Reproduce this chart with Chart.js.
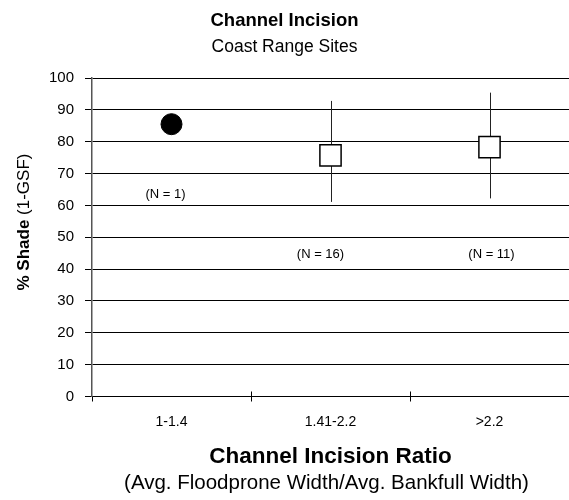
<!DOCTYPE html>
<html>
<head>
<meta charset="utf-8">
<script src="https://cdn.jsdelivr.net/npm/chart.js@4/dist/chart.umd.min.js"></script>
<style>
  html,body{margin:0;padding:0;background:#fff;}
  #wrap{width:569px;height:500px;position:relative;}
</style>
</head>
<body>
<div id="wrap"><canvas id="chart"></canvas></div>
<script>
// Dati: % ombra per classe di incisione
const categories = ['1-1.4', '1.41-2.2', '>2.2'];
const singleSite = [85.5, null, null];
const meanShade = [null, 75.7, 78.3];
const errLow = [null, 61.1, 62.2];
const errHigh = [null, 92.8, 95.4];
const nLabels = ['(N = 1)', '(N = 16)', '(N = 11)'];
const nLabelY = [63.5, 44.7, 44.7];
const yTicks = [0, 10, 20, 30, 40, 50, 60, 70, 80, 90, 100];

const FONT = "'Liberation Sans', Arial, sans-serif";
// spostamento orizzontale (px) delle etichette N rispetto al centro categoria
const N_SHIFT = [-6, -10, 2];

// barre min-max dietro ai quadrati + tacche asse X che attraversano l'asse
const errorBars = {
  id:'errorBars',
  beforeDatasetsDraw(chart){
    const {ctx, chartArea, scales:{x, y}} = chart;
    ctx.save();
    ctx.strokeStyle = '#222';
    ctx.lineWidth = 1;
    errLow.forEach((lo, i)=>{
      if(lo == null) return;
      const px = Math.round(x.getPixelForValue(i)) + 0.5;
      ctx.beginPath();
      ctx.moveTo(px, y.getPixelForValue(lo));
      ctx.lineTo(px, y.getPixelForValue(errHigh[i]));
      ctx.stroke();
    });
    ctx.strokeStyle = '#000';
    for(let i = 1; i < categories.length; i++){
      const px = Math.round(x.getPixelForValue(i - 0.5)) + 0.5;
      ctx.beginPath();
      ctx.moveTo(px, chartArea.bottom - 5);
      ctx.lineTo(px, chartArea.bottom);
      ctx.stroke();
    }
    ctx.restore();
  }
};

// titoli, etichette N e titoli assi
const texts = {
  id:'texts',
  afterDraw(chart){
    const {ctx, chartArea, scales:{x, y}} = chart;
    const W = chart.width;
    ctx.save();
    ctx.fillStyle = '#000';
    ctx.textAlign = 'center';
    ctx.textBaseline = 'alphabetic';

    ctx.font = `bold 18.5px ${FONT}`;
    ctx.fillText('Channel Incision', W/2, 26);
    ctx.font = `17.5px ${FONT}`;
    ctx.fillText('Coast Range Sites', W/2, 52);

    ctx.font = `13px ${FONT}`;
    ctx.textBaseline = 'middle';
    nLabels.forEach((t, i)=>{
      ctx.fillText(t, x.getPixelForValue(i) + N_SHIFT[i], y.getPixelForValue(nLabelY[i]));
    });

    const cx = (chartArea.left + chartArea.right)/2;
    ctx.textBaseline = 'alphabetic';
    ctx.font = `bold 22.5px ${FONT}`;
    ctx.fillText('Channel Incision Ratio', cx, 463);
    ctx.font = `20.5px ${FONT}`;
    ctx.fillText('(Avg. Floodprone Width/Avg. Bankfull Width)', cx - 4, 489);

    // titolo asse Y: parte in grassetto + parte normale
    const boldPart = '% Shade';
    const normPart = ' (1-GSF)';
    ctx.font = `bold 17px ${FONT}`;
    const wb = ctx.measureText(boldPart).width;
    ctx.font = `17px ${FONT}`;
    const wn = ctx.measureText(normPart).width;
    ctx.translate(29, 222);
    ctx.rotate(-Math.PI/2);
    ctx.textAlign = 'left';
    const start = -(wb + wn)/2;
    ctx.font = `bold 17px ${FONT}`;
    ctx.fillText(boldPart, start, 0);
    ctx.font = `17px ${FONT}`;
    ctx.fillText(normPart, start + wb, 0);
    ctx.restore();
  }
};

new Chart(document.getElementById('chart'), {
  type:'line',
  data:{
    labels:categories,
    datasets:[
      {
        label:'1 sito',
        data:singleSite,
        showLine:false,
        pointStyle:'circle',
        pointRadius:10.5,
        pointBackgroundColor:'#000',
        pointBorderColor:'#000',
        pointBorderWidth:1
      },
      {
        label:'media',
        data:meanShade,
        showLine:false,
        pointStyle:'rect',
        pointRadius:15,
        pointBackgroundColor:'#fff',
        pointBorderColor:'#000',
        pointBorderWidth:1.5
      }
    ]
  },
  options:{
    responsive:true,
    maintainAspectRatio:false,
    animation:false,
    layout:{autoPadding:false, padding:{top:78, right:0, bottom:0, left:0}},
    plugins:{
      legend:{display:false},
      tooltip:{enabled:false},
      title:{display:false}
    },
    scales:{
      x:{
        type:'category',
        offset:true,
        grid:{display:true, drawOnChartArea:false, offset:true, color:'#000', tickLength:5, lineWidth:1},
        border:{display:true, color:'#000', width:1},
        ticks:{color:'#000', font:{family:FONT, size:14}, padding:12, maxRotation:0},
        afterFit(scale){ scale.height = 103.5; }
      },
      y:{
        min:0, max:100,
        afterBuildTicks(scale){ scale.ticks = yTicks.map(v=>({value:v})); },
        grid:{color:'#000', lineWidth:1, tickLength:7},
        border:{display:true, color:'#555', width:1.5},
        ticks:{color:'#000', font:{family:FONT, size:15}, padding:11},
        afterFit(scale){ scale.width = 92; }
      }
    }
  },
  plugins:[errorBars, texts]
});
</script>
</body>
</html>
